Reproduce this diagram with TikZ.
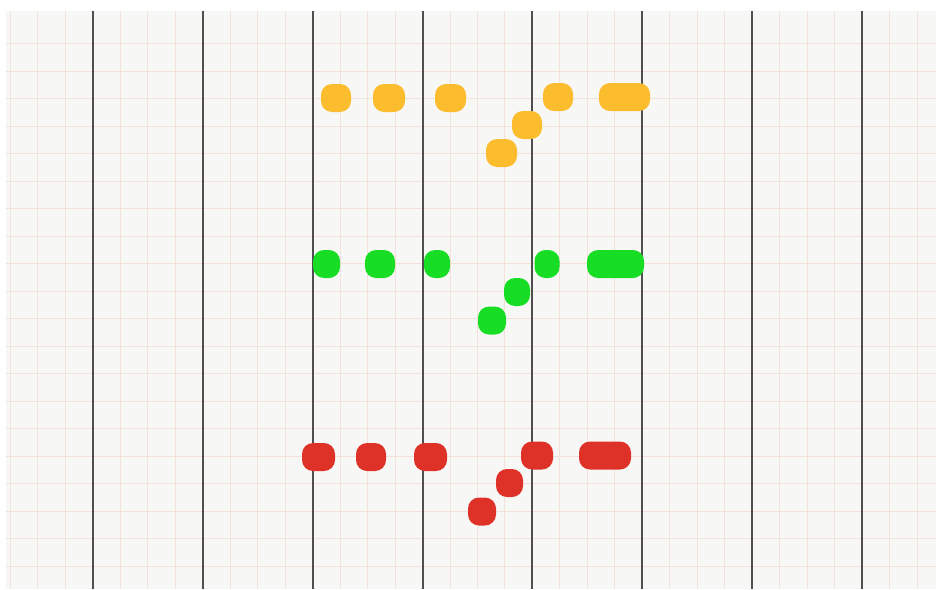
\documentclass[tikz,border=0pt]{standalone}
\definecolor{paper}{HTML}{F7F7F5}
\definecolor{gridc}{HTML}{F3E2DA}
\definecolor{barc}{HTML}{4F4F4F}
\definecolor{notey}{HTML}{FBBC2E}
\definecolor{noteg}{HTML}{17DE25}
\definecolor{noter}{HTML}{DE3128}

\begin{document}
\begin{tikzpicture}[x=1pt,y=-1pt,
    gridln/.style={gridc,line width=1pt},
    barln/.style={barc,line width=2pt},
    note/.style={rounded corners=11pt,inner sep=0pt,minimum height=28pt}]
    \useasboundingbox (0,0) rectangle (936,589);
    \fill[white] (0,0) rectangle (936,589);
    \fill[paper] (6,11) rectangle (936,589);
    % staff paper
    \foreach \xx in {0,...,33}
        \draw[gridln] ({10.5+27.47*\xx},11) -- ++(0,578);
    \foreach \yy in {0,...,19}
        \draw[gridln] (6,{43.5+27.5*\yy}) -- ++(930,0);
    \foreach \xx in {0,...,7}
        \draw[barln] ({93+109.87*\xx},11) -- ++(0,578);
    % yellow notes
    \node[note,fill=notey,minimum width=30pt] (y1) at (336,98) {};
    \node[note,fill=notey,minimum width=32pt] (y2) at (389,98) {};
    \node[note,fill=notey,minimum width=31pt] (y3) at (450.5,98) {};
    \node[note,fill=notey,minimum width=31pt] (y4) at (501.5,153) {};
    \node[note,fill=notey,minimum width=30pt] (y5) at (527,125) {};
    \node[note,fill=notey,minimum width=30pt] (y6) at (558,97) {};
    \node[note,fill=notey,minimum width=51pt] (y7) at (624.5,97) {};
    % green notes
    \node[note,fill=noteg,minimum width=27pt] (g1) at (326.5,264) {};
    \node[note,fill=noteg,minimum width=30pt] (g2) at (380,264) {};
    \node[note,fill=noteg,minimum width=26pt] (g3) at (437,264) {};
    \node[note,fill=noteg,minimum width=28pt] (g4) at (492,320.5) {};
    \node[note,fill=noteg,minimum width=26pt] (g5) at (517,292) {};
    \node[note,fill=noteg,minimum width=25pt] (g6) at (547,264) {};
    \node[note,fill=noteg,minimum width=57pt] (g7) at (615.5,264) {};
    % red notes
    \node[note,fill=noter,minimum width=33pt] (r1) at (318.5,457) {};
    \node[note,fill=noter,minimum width=30pt] (r2) at (371,457) {};
    \node[note,fill=noter,minimum width=33pt] (r3) at (430.5,457) {};
    \node[note,fill=noter,minimum width=28pt] (r4) at (482,511.5) {};
    \node[note,fill=noter,minimum width=27pt] (r5) at (509.5,483) {};
    \node[note,fill=noter,minimum width=32pt] (r6) at (537,455.5) {};
    \node[note,fill=noter,minimum width=52pt] (r7) at (605,455.5) {};
\end{tikzpicture}
\end{document}
